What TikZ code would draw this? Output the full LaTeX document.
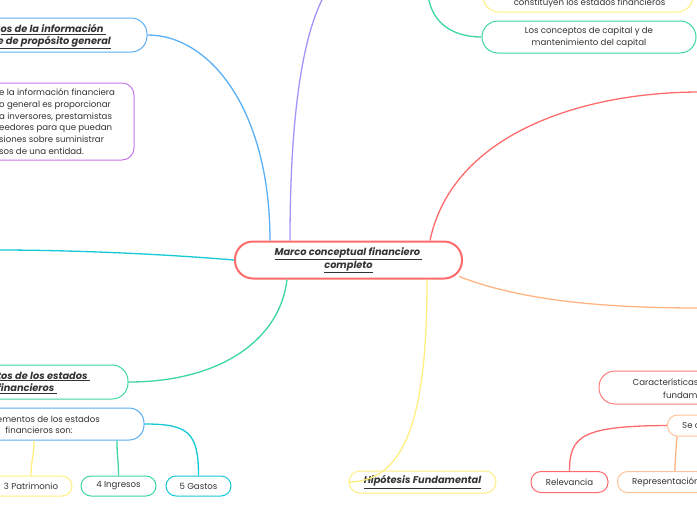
\documentclass[tikz,border=0pt]{standalone}
\usepackage{fontspec}
\setmainfont{Poppins}
\usetikzlibrary{calc}
\definecolor{txt}{HTML}{333333}
\definecolor{redA}{HTML}{FF6B6B}
\definecolor{blueA}{HTML}{5AAFF5}
\definecolor{purpL}{HTML}{A096FA}
\definecolor{purpB}{HTML}{C878EB}
\definecolor{cyanA}{HTML}{14C8D7}
\definecolor{greenA}{HTML}{3CD7A0}
\definecolor{yelA}{HTML}{FFEF80}
\definecolor{orA}{HTML}{FFB482}
\definecolor{orB}{HTML}{FFC39B}
\definecolor{redB}{HTML}{FF7A7A}
\newcommand{\mmbody}{\fontsize{8.6}{11.7}\selectfont}
\newcommand{\mmtitle}{\fontsize{9.8}{12.8}\selectfont\bfseries\itshape}
\tikzset{
  mmbox/.style={draw, line width=1pt, fill=white, inner sep=0pt, align=center, font=\mmbody, text=txt},
  mmtext/.style={inner sep=0pt, font=\mmbody, text=txt},
  mmttl/.style={inner sep=0pt, font=\mmtitle, text=txt},
  conn/.style={line width=1.3pt}
}
\begin{document}
\begin{tikzpicture}[x=1pt,y=-1pt]
\clip (0,0) rectangle (697,520);
\fill[white] (0,0) rectangle (697,520);

% central
\node[mmbox, draw=redA, line width=2pt, minimum width=227pt, minimum height=37pt, rounded corners=18pt, font=\mmtitle] (mc) at (348.5,260) {\underline{Marco conceptual financiero\ }\\\underline{completo}};

% top-left objective
\node[mmbox, draw=blueA, minimum width=207pt, minimum height=34pt, rounded corners=16pt] (obj) at (43.5,35) {};
\node[mmttl, anchor=east] (objt1) at (106,29.5) {\underline{os de la información\ }};
\node[mmttl, anchor=east] (objt2) at (111,42.5) {\underline{e de propósito general}};

% purple description
\node[mmbox, draw=purpB, minimum width=214pt, minimum height=77pt, rounded corners=12pt] (goal) at (27,121.5) {};
\node[mmtext, anchor=west, align=left] (goalt) at (-1,121.5) {e la información financiera\\o general es proporcionar\\a inversores, prestamistas\\eedores para que puedan\\siones sobre suministrar\\sos de una entidad.};

% elementos
\node[mmbox, draw=greenA, minimum width=248pt, minimum height=34pt, rounded corners=16pt] (tos) at (4,382) {};
\node[mmttl, anchor=east] (tost1) at (90,376.5) {\underline{tos de los estados\ }};
\node[mmttl] (tost2) at (27,388.8) {\underline{financieros\ }};

\node[mmbox, draw=blueA, minimum width=240pt, minimum height=32pt, rounded corners=15pt] (elem) at (24,424) {};
\node[mmtext, anchor=east] (elemt1) at (100,419) {ementos de los estados};
\node[mmtext] (elemt2) at (39,430.5) {financieros son:};

\node[mmbox, draw=yelA, minimum width=82pt, minimum height=20pt, rounded corners=10pt] (pat) at (31,486) {3 Patrimonio};
\node[mmbox, draw=greenA, minimum width=75pt, minimum height=20pt, rounded corners=10pt] (ing) at (118.5,486) {4 Ingresos};
\node[mmbox, draw=cyanA, minimum width=65pt, minimum height=20pt, rounded corners=10pt] (gas) at (198.5,486) {5 Gastos};

% hipotesis
\node[mmbox, draw=yelA, minimum width=147pt, minimum height=22pt, rounded corners=11pt, font=\mmtitle] (hip) at (422.5,482) {\underline{Hipótesis Fundamental}};

% top right
\node[mmbox, draw=yelA, minimum width=210pt, minimum height=37pt, rounded corners=16pt] (yel) at (588,-6.5) {};
\node[mmtext] (yelt) at (589.5,3) {constituyen los estados financieros};
\node[mmbox, draw=greenA, minimum width=214pt, minimum height=32pt, rounded corners=16pt] (cap) at (589,37) {Los conceptos de capital y de\\mantenimiento del capital};

% bottom right
\node[mmbox, draw=redB, minimum width=191pt, minimum height=33pt, rounded corners=16pt] (car) at (694.5,387.5) {};
\node[mmtext, anchor=west] (cart1) at (632.5,382) {Características};
\node[mmtext, anchor=west] (cart2) at (663,395) {fundamentales};

\node[mmbox, draw=orB, anchor=west, minimum width=70pt, minimum height=21pt, rounded corners=10pt] (se) at (667,425.5) {};
\node[mmtext, anchor=west] (set) at (682,425.5) {Se c};

\node[mmbox, draw=redA, minimum width=77pt, minimum height=21pt, rounded corners=10pt] (rel) at (569.5,482) {Relevancia};
\node[mmbox, draw=orB, anchor=west, minimum width=130pt, minimum height=21pt, rounded corners=10pt] (rep) at (617,482) {};
\node[mmtext, anchor=west] (rept) at (632,482) {Representación};

% off-canvas ends
\coordinate (topP) at (324,-4);
\coordinate (topG) at (428,-5);
\coordinate (leftC) at (-2,250);
\coordinate (rightR) at (700,92);
\coordinate (rightO) at (700,308);

% connectors
\draw[conn, blueA] ([xshift=-78.5pt]mc.north) .. controls (270,110) and (210,35) .. (obj.east);
\draw[conn, purpL] ([xshift=-58.5pt]mc.north) .. controls (290,130) and (300,40) .. (topP);
\draw[conn, cyanA] (mc.west) .. controls (150,253) and (60,250) .. (leftC);
\draw[conn, greenA] ([xshift=-61.5pt]mc.south) .. controls (280,340) and (220,382) .. (tos.east);
\draw[conn, yelA] ([xshift=78.5pt]mc.south) .. controls (427,405) and (410,482) .. (hip.west);
\draw[conn, redA] ([xshift=81.5pt]mc.north) .. controls (452,135) and (580,92) .. (rightR);
\draw[conn, orA] ($(mc.south east)+(-4,-3)$) .. controls (520,300) and (600,308) .. (rightO);
\draw[conn, greenA] (topG) .. controls (432,25) and (455,37) .. (cap.west);

\draw[conn, yelA] ([xshift=3pt]elem.south -| pat.north) .. controls (34,458) and (31,460) .. (pat.north);
\draw[conn, greenA] ([xshift=-1.5pt]elem.south -| ing.north) .. controls (117,458) and (118.5,460) .. (ing.north);
\draw[conn, cyanA] (elem.east) .. controls (188,424) and (198.5,432) .. (gas.north);

\draw[conn, redA] (se.west) .. controls (582,426) and (569.5,436) .. (rel.north);
\draw[conn, orA] ([xshift=10pt]se.south west) .. controls (676,450) and (675,460) .. ([xshift=58pt]rep.north west);
\end{tikzpicture}
\end{document}
